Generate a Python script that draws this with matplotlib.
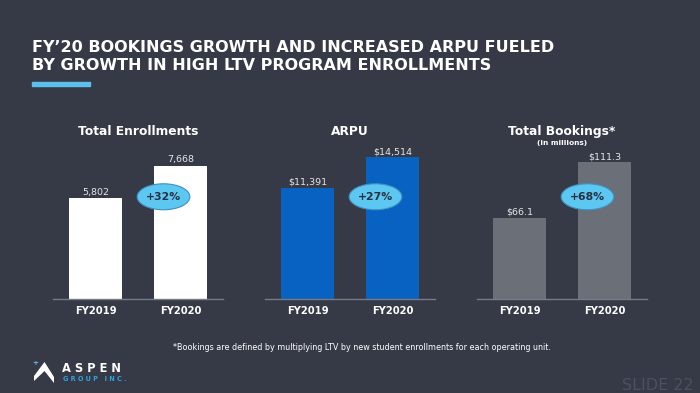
import matplotlib
matplotlib.use("Agg")
from matplotlib import pyplot as plt
from matplotlib.patches import Ellipse, Polygon, Rectangle

# data
years = ["FY2019", "FY2020"]
enrollments = [5802, 7668]
arpu = [11391, 14514]
bookings = [66.1, 111.3]

BG = "#363a47"
W, H = 700, 393


def px(x, y):
    # pixel position -> figure fraction
    return x / W, 1 - y / H


fig = plt.figure(figsize=(7, 3.93), dpi=100, facecolor=BG)

# headline
fig.text(*px(32, 47), "FY\u201920 BOOKINGS GROWTH AND INCREASED ARPU FUELED",
         color="white", fontsize=11.5, fontweight="bold", va="center", ha="left")
fig.text(*px(32, 66), "BY GROWTH IN HIGH LTV PROGRAM ENROLLMENTS",
         color="white", fontsize=11.5, fontweight="bold", va="center", ha="left")
fig.patches.append(Rectangle(px(32, 85.5), 58 / W, 4 / H, transform=fig.transFigure,
                             color="#5bc0eb", zorder=3))

panels = [
    ("Total Enrollments", None, enrollments, "{:,.0f}", "#ffffff", 53, 8562),
    ("ARPU", None, arpu, "${:,.0f}", "#0862c2", 265, 15286),
    ("Total Bookings*", "(in millions)", bookings, "${:.1f}", "#6b6f78", 477, 121.5),
]

for title, sub, vals, fmt, col, left, ytop in panels:
    ax = fig.add_axes([left / W, 1 - 298.5 / H, 170 / W, 148.5 / H])
    ax.set_facecolor("none")
    x = range(len(years))
    ax.bar(x, vals, width=0.63, color=col)
    for xi, v in zip(x, vals):
        ax.annotate(fmt.format(v), (xi, v), xytext=(0, 0.8), textcoords="offset points",
                    ha="center", va="bottom", color="#e6e6e6", fontsize=6.8)
    ax.set_xlim(-0.5, 1.5)
    ax.set_ylim(0, ytop)
    ax.set_xticks(list(x))
    ax.set_xticklabels(years, color="white", fontsize=7.2, fontweight="bold")
    ax.tick_params(axis="x", length=0, pad=5.5)
    ax.set_yticks([])
    for s in ["top", "left", "right"]:
        ax.spines[s].set_visible(False)
    ax.spines["bottom"].set_color("#777b86")
    ax.spines["bottom"].set_linewidth(1)

    ax.text(0.5, 1.125, title, transform=ax.transAxes, ha="center", va="center",
            color="white", fontsize=8.8, fontweight="bold")
    if sub:
        ax.text(0.5, 1.048, sub, transform=ax.transAxes, ha="center", va="center",
                color="white", fontsize=5.3, fontweight="bold")

    growth = (vals[1] / vals[0] - 1) * 100
    ax.add_patch(Ellipse((0.65, 0.685), 0.31, 0.175, transform=ax.transAxes,
                         facecolor="#5cc8f2", edgecolor="#3f8fc0", linewidth=0.8,
                         zorder=4, clip_on=False))
    ax.text(0.65, 0.685, "+{:.0f}%".format(growth), transform=ax.transAxes,
            ha="center", va="center", color="#2b3142", fontsize=7.8,
            fontweight="bold", zorder=5)

# footnote
fig.text(*px(173, 348), "*Bookings are defined by multiplying LTV by new student "
         "enrollments for each operating unit.", color="white", fontsize=5.8,
         ha="left", va="center")

# logo
chev = [(34, 376), (44.5, 362), (54, 377), (54, 383), (44.5, 371), (34, 381)]
fig.patches.append(Polygon([px(*p) for p in chev], closed=True,
                           transform=fig.transFigure, facecolor="white", edgecolor="none"))
fig.text(*px(35, 363), "+", color="#5bc0eb", fontsize=5, ha="center", va="center",
         fontweight="bold")
fig.text(*px(62, 368), "A S P E N", color="white", fontsize=8.3, fontweight="bold",
         ha="left", va="center")
fig.text(*px(63, 379), "G R O U P   I N C .", color="#2ea3dc", fontsize=4.7,
         fontweight="bold", ha="left", va="center")

fig.text(*px(694, 386), "SLIDE 22", color="#4c505f", fontsize=11.5, ha="right",
         va="center")

plt.savefig("out.png", dpi=100, facecolor=BG)
